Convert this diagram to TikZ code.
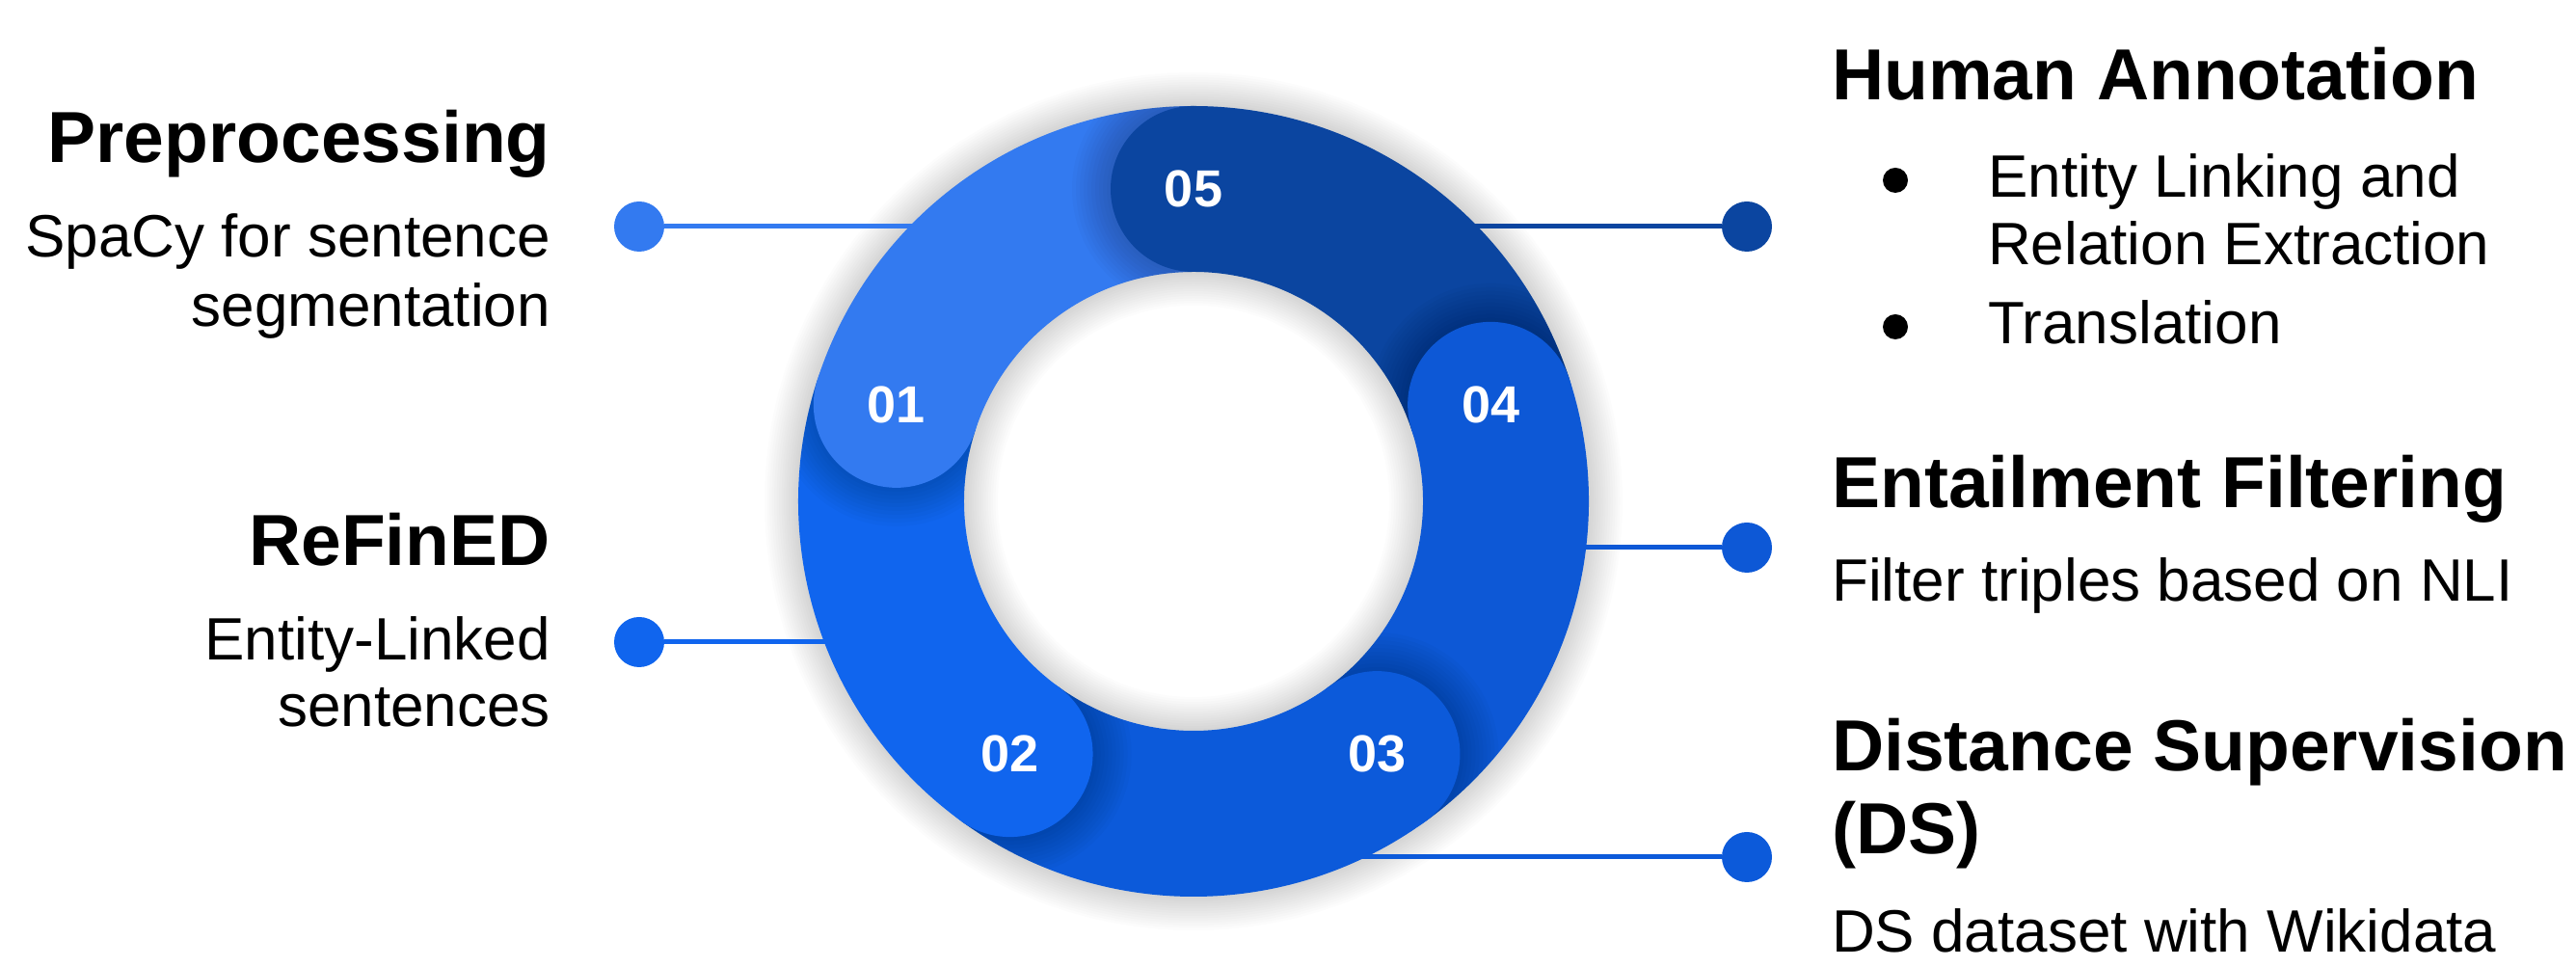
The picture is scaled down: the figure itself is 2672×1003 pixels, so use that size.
\documentclass[tikz,border=0pt]{standalone}
\usepackage{fontspec}
\setmainfont{Liberation Sans}
\usetikzlibrary{calc}
\definecolor{cA}{HTML}{337AF0}
\definecolor{cB}{HTML}{1065EE}
\definecolor{cC}{HTML}{0C5ADA}
\definecolor{cD}{HTML}{0D58D6}
\definecolor{cE}{HTML}{0B45A0}
\begin{document}
\begin{tikzpicture}[x=1pt,y=1pt,
  title/.style={inner sep=0pt, font=\fontsize{75}{90}\selectfont\bfseries},
  body/.style={inner sep=0pt, font=\fontsize{62}{74}\selectfont},
  headnode/.style={circle, minimum size=172pt, inner sep=0pt, text=white, font=\fontsize{54}{64}\selectfont\bfseries},
  dotnode/.style={circle, minimum size=52pt, inner sep=0pt},
  conn/.style={line width=5pt},
  bul/.style={circle, fill=black, minimum size=26pt, inner sep=0pt}]
\useasboundingbox (0,0) rectangle (2672,1003);
\coordinate (C) at (1238,483);

% soft halo around the ring
\foreach \i in {1,...,14}
  \draw[black, opacity=0.01, line width={172+5*\i}] (C) circle[radius=324];

% dots and connectors (ring drawn over their inner ends)
\node[dotnode, fill=cA] (d1) at (663,768) {};
\node[dotnode, fill=cB] (d2) at (663,337) {};
\node[dotnode, fill=cC] (d3) at (1812,114) {};
\node[dotnode, fill=cD] (d4) at (1812,435) {};
\node[dotnode, fill=cE] (d5) at (1812,768) {};
\coordinate (e1) at (970,768);
\coordinate (e2) at (880,337);
\coordinate (e3) at (1380,114);
\coordinate (e4) at (1600,435);
\coordinate (e5) at (1500,768);
\draw[conn, cA] (d1) -- (e1);
\draw[conn, cB] (d2) -- (e2);
\draw[conn, cC] (d3) -- (e3);
\draw[conn, cD] (d4) -- (e4);
\draw[conn, cE] (d5) -- (e5);

% ring segments
\foreach \a/\c in {162/cA, 234/cB, 306/cC, 18/cD, 90/cE}
  \draw[line width=172pt, \c] ($(C)+(\a:324)$) arc[start angle=\a, end angle={\a-72}, radius=324];

% shadows cast by the rounded heads
\foreach \a in {162,234,306,18,90} {
  \begin{scope}
    \clip ($(C)+(\a:410)$) arc[start angle=\a, end angle={\a+72}, radius=410]
      -- ($(C)+({\a+72}:238)$) arc[start angle={\a+72}, end angle=\a, radius=238] -- cycle;
    \foreach \j in {1,...,10}
      \fill[black, opacity=0.02] ($(C)+(\a:324)$) circle[radius={86+4*\j}];
  \end{scope}
}

% rounded heads with numbers
\foreach \a/\c/\t in {162/cA/01, 234/cB/02, 306/cC/03, 18/cD/04, 90/cE/05}
  \node[headnode, fill=\c] (n\t) at ($(C)+(\a:324)$) {\t};

% left texts
\node[title, anchor=base east] (t1) at (571,834) {Preprocessing};
\node[body, anchor=base east] (t1a) at (571,736) {SpaCy for sentence};
\node[body, anchor=base east] (t1b) at (571,664) {segmentation};
\node[title, anchor=base east] (t2) at (571,416) {ReFinED};
\node[body, anchor=base east] (t2a) at (571,318) {Entity-Linked};
\node[body, anchor=base east] (t2b) at (571,249) {sentences};

% right texts
\node[title, anchor=base west] (t5) at (1900,899) {Human Annotation};
\node[bul] (b1) at (1966,816) {};
\node[body, anchor=base west] (t5a) at (2062,798) {Entity Linking and};
\node[body, anchor=base west] (t5b) at (2062,728) {Relation Extraction};
\node[bul] (b2) at (1966,664) {};
\node[body, anchor=base west] (t5c) at (2062,646) {Translation};
\node[title, anchor=base west] (t4) at (1900,476) {Entailment Filtering};
\node[body, anchor=base west] (t4a) at (1900,379) {Filter triples based on NLI};
\node[title, anchor=base west] (t3) at (1900,203) {Distance Supervision};
\node[title, anchor=base west] (t3b) at (1900,117) {(DS)};
\node[body, anchor=base west] (t3a) at (1900,15) {DS dataset with Wikidata};
\end{tikzpicture}
\end{document}
